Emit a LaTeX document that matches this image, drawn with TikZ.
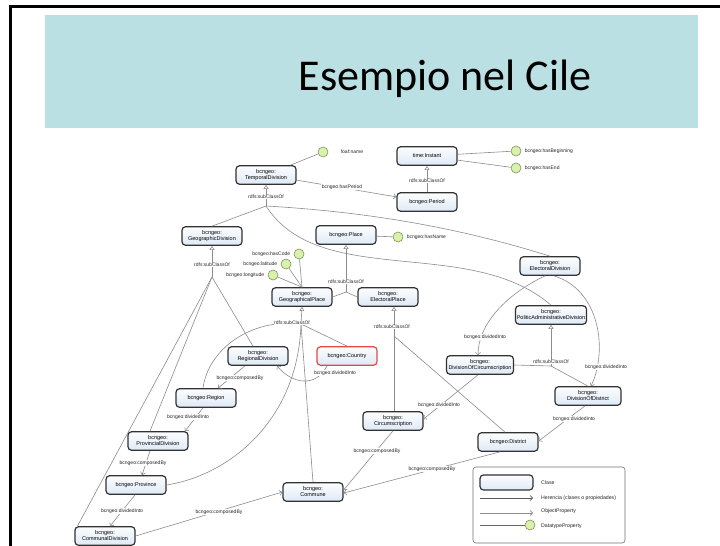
\documentclass[tikz,border=0pt]{standalone}
\usepackage{fontspec}
\setmainfont{Liberation Sans}
\newfontfamily\titlefont{Carlito}
\usetikzlibrary{arrows.meta,shapes.geometric}

\definecolor{headbg}{RGB}{187,224,227}
\definecolor{edgegray}{RGB}{140,140,140}
\definecolor{boxline}{RGB}{50,50,50}
\definecolor{boxtop}{RGB}{252,253,255}
\definecolor{boxbot}{RGB}{222,234,246}
\definecolor{dpfill}{RGB}{216,241,172}
\definecolor{dpline}{RGB}{128,148,92}
\definecolor{redline}{RGB}{228,72,72}

\tikzset{
  cls/.style={draw=boxline, line width=1.2pt, rounded corners=3.5pt,
    top color=boxtop, bottom color=boxbot, minimum width=60pt,
    minimum height=18.5pt, inner sep=1pt, align=center,
    font=\fontsize{5.5}{6}\selectfont},
  dp/.style={circle, draw=dpline, fill=dpfill, line width=0.6pt,
    minimum size=10pt, inner sep=0pt},
  lbl/.style={font=\fontsize{5}{5.5}\selectfont, text=black!85, inner sep=0.6pt},
  wlbl/.style={lbl, fill=white},
  lgtxt/.style={font=\fontsize{5.2}{6}\selectfont, text=black!85, inner sep=0pt, anchor=west},
  edge/.style={draw=edgegray, line width=0.6pt},
  obj/.style={edge, -{Straight Barb[length=2.5pt,width=5pt]}},
  isa/.style={edge, {Triangle[open,length=4pt,width=5pt]}-},
}

\begin{document}
\begin{tikzpicture}[x=1pt,y=-1pt]
\useasboundingbox (0,0) rectangle (720,546);
\fill[white] (0,0) rectangle (720,546);

% slide header
\fill[headbg] (45,15) rectangle (698,128);
\draw[line width=3pt, line join=miter] (10,546) -- (10,6.5) -- (720,6.5);
\node[anchor=base, inner sep=0pt, font=\titlefont\fontsize{44}{50}\selectfont] (title) at (445,90) {Esempio nel Cile};

% classes
\node[cls] (TD)  at (266,175) {bcngeo:\\TemporalDivision};
\node[cls] (TI)  at (427,156) {time:Instant};
\node[cls] (PE)  at (427,202) {bcngeo:Period};
\node[cls] (GD)  at (212,236) {bcngeo:\\GeographicDivision};
\node[cls] (PL)  at (346,235) {bcngeo:Place};
\node[cls] (GP)  at (302,297) {bcngeo:\\GeographicalPlace};
\node[cls] (EP)  at (388,297) {bcngeo:\\ElectoralPlace};
\node[cls] (ED)  at (550,266) {bcngeo:\\ElectoralDivision};
\node[cls, minimum width=71pt] (PAD) at (551,315) {bcngeo:\\PoliticAdministrativeDivision};
\node[cls] (RD)  at (258,356) {bcngeo:\\RegionalDivision};
\node[cls, draw=redline] (CO) at (347,356) {bcngeo:Country};
\node[cls, minimum width=67pt] (DOC) at (480,365) {bcngeo:\\DivisionOfCircumscription};
\node[cls, minimum width=66pt] (DOD) at (588,396) {bcngeo:\\DivisionOfDistrict};
\node[cls] (RE)  at (206,398) {bcngeo:Region};
\node[cls] (PD)  at (158,441) {bcngeo:\\ProvincialDivision};
\node[cls] (CI)  at (393,421) {bcngeo:\\Circumscription};
\node[cls] (DI)  at (508,442) {bcngeo:District};
\node[cls] (PR)  at (136,485) {bcngeo:Province};
\node[cls] (CM)  at (313,492) {bcngeo:\\Commune};
\node[cls] (CD)  at (105,536) {bcngeo:\\CommunalDivision};

% datatype properties
\node[dp] (fname) at (323,152) {};
\node[lbl, anchor=west] (fnamel) at (340,152) {foaf:name};
\node[dp] (hbeg) at (516,151) {};
\node[lbl, anchor=west] (hbegl) at (524,151) {bcngeo:hasBeginning};
\node[dp] (hend) at (516,168) {};
\node[lbl, anchor=west] (hendl) at (524,168) {bcngeo:hasEnd};
\node[dp] (hname) at (398,237) {};
\node[lbl, anchor=west] (hnamel) at (406,237) {bcngeo:hasName};
\node[dp] (hcode) at (299,254) {};
\node[lbl, anchor=east] (hcodel) at (291,254) {bcngeo:hasCode};
\node[dp] (hlat) at (286,264) {};
\node[lbl, anchor=east] (hlatl) at (278,264) {bcngeo:latitude};
\node[dp] (hlon) at (273,275) {};
\node[lbl, anchor=east] (hlonl) at (265,275) {bcngeo:longitude};

\draw[edge] (TD) -- (fname);
\draw[edge] (TI) -- (hbeg);
\draw[edge] (TI) -- (hend);
\draw[edge] (PL) -- (hname);
\draw[edge] (GP.north) -- (hcode);
\draw[edge] (GP.north) -- (hlat);
\draw[edge] (GP.north) -- (hlon);

% subclass trees
\coordinate (jTD) at (266,206);
\coordinate (jPL) at (346,292);
\coordinate (jGD) at (212,277);
\coordinate (jGP) at (301,324);
\coordinate (jEP) at (394,336);
\coordinate (jPAD) at (551,366);

\draw[isa] (TI.south) -- (PE.north);
\node[wlbl] (sTI) at (427,181) {rdfs:subClassOf};

\draw[edge] (jTD) -- (GD.north);
\draw[edge] (jTD) .. controls (370,212) and (460,228) .. (ED.north);
\draw[edge] (jTD) .. controls (320,290) and (470,235) .. (PAD.north);
\draw[isa] (TD.south) -- (jTD);
\node[wlbl] (sTD) at (266,197) {rdfs:subClassOf};

\draw[isa] (PL.south) -- (jPL);
\draw[edge] (jPL) -- (GP.east);
\draw[edge] (jPL) -- (EP.west);
\node[wlbl] (sPL) at (346,282) {rdfs:subClassOf};

\draw[isa] (GD.south) -- (jGD);
\draw[edge] (jGD) -- ([xshift=-5pt]RD.north);
\draw[edge] (jGD) -- ([xshift=-8pt]PD.north);
\draw[edge] (jGD) -- ([xshift=3pt]CD.north west);
\node[wlbl] (sGD) at (212,265) {rdfs:subClassOf};

\draw[isa] (GP.south) -- (jGP);
\draw[edge] (jGP) -- (CO.north);
\draw[edge] (jGP) .. controls (250,318) and (208,350) .. ([xshift=-3pt]RE.north);
\draw[edge] (jGP) .. controls (298,420) and (230,475) .. (PR.east);
\draw[edge] (jGP) -- (CM.north);
\node[wlbl] (sGP) at (292,323) {rdfs:subClassOf};

\draw[isa] ([xshift=6pt]EP.south) -- (jEP);
\draw[edge] (jEP) -- ([xshift=1pt]CI.north);
\draw[edge] (jEP) -- ([xshift=-3pt]DI.north);
\node[wlbl] (sEP) at (392,327) {rdfs:subClassOf};

\draw[isa] (PAD.south) -- (jPAD);
\draw[edge] (jPAD) -- (DOC.east);
\draw[edge] (jPAD) -- (DOD.north);
\node[wlbl] (sPAD) at (551,362) {rdfs:subClassOf};

% object properties
\draw[obj] (TD) -- (PE);
\node[wlbl] (pHP) at (342,187) {bcngeo:hasPeriod};

\draw[obj] ([xshift=-13pt]RD.south) -- ([xshift=12pt]RE.north);
\node[wlbl] (pRD) at (240,378) {bcngeo:composedBy};

\draw[obj] ([xshift=-20pt]CO.south) .. controls (316,388) and (292,384) .. ([xshift=19pt]RD.south);
\node[wlbl] (pCO) at (335,373) {bcngeo:dividedInto};

\draw[obj] ([xshift=-3pt]RE.south) -- ([xshift=27pt]PD.north);
\node[wlbl] (pRE) at (188,417) {bcngeo:dividedInto};

\draw[obj] ([xshift=-8pt]PD.south) -- ([xshift=6pt]PR.north);
\node[wlbl] (pPD) at (143,463) {bcngeo:composedBy};

\draw[obj] ([xshift=-1pt]PR.south) -- ([xshift=5pt]CD.north);
\node[wlbl] (pPR) at (122,511) {bcngeo:dividedInto};

\draw[obj] (CD.east) -- (CM.west);
\node[wlbl] (pCD) at (219,512) {bcngeo:composedBy};

\draw[obj] (CI.south) -- ([yshift=2pt]CM.east);
\node[wlbl] (pCI) at (377,451) {bcngeo:composedBy};

\draw[obj] ([xshift=-8pt]DI.south) -- ([yshift=-1pt]CM.east);
\node[wlbl] (pDI) at (432,469) {bcngeo:composedBy};

\draw[obj] ([xshift=-2pt]DOC.south) -- ([yshift=2pt]CI.east);
\node[wlbl] (pDOC) at (439,405) {bcngeo:dividedInto};

\draw[obj] ([xshift=-3pt]DOD.south) -- ([yshift=1pt]DI.east);
\node[wlbl] (pDOD) at (574,419) {bcngeo:dividedInto};

\draw[obj] ([xshift=-5pt]ED.south) .. controls (505,295) and (478,325) .. ([xshift=-2pt]DOC.north);
\node[wlbl] (pED1) at (485,337) {bcngeo:dividedInto};

\draw[obj] ([xshift=4pt]ED.south) .. controls (600,290) and (608,350) .. ([xshift=3pt]DOD.north);
\node[wlbl] (pED2) at (606,367) {bcngeo:dividedInto};

% legend
\draw[draw=black!55, line width=0.6pt, rounded corners=3pt] (473,467) rectangle (625,543);
\node[cls, minimum width=53pt, minimum height=15pt] (lgclass) at (506.5,482.5) {};
\node[lgtxt] (lgclassl) at (541,483) {Clase};
\coordinate (lgh0) at (480,498);
\coordinate (lgh1) at (533,498);
\draw[edge, draw=black!65, -{Straight Barb[length=2.5pt,width=5pt]}] (lgh0) -- (lgh1);
\node[lgtxt] (lghl) at (541,498) {Herencia (clases o propiedades)};
\coordinate (lgo0) at (480,513);
\coordinate (lgo1) at (533,513);
\draw[obj] (lgo0) -- (lgo1);
\node[lgtxt] (lgol) at (541,511) {ObjectProperty};
\coordinate (lgd0) at (480,525);
\node[dp] (lgdp) at (530,525) {};
\draw[edge, draw=black!60] (lgd0) -- (lgdp);
\node[lgtxt] (lgdl) at (541,526) {DatatypeProperty};
\end{tikzpicture}
\end{document}
